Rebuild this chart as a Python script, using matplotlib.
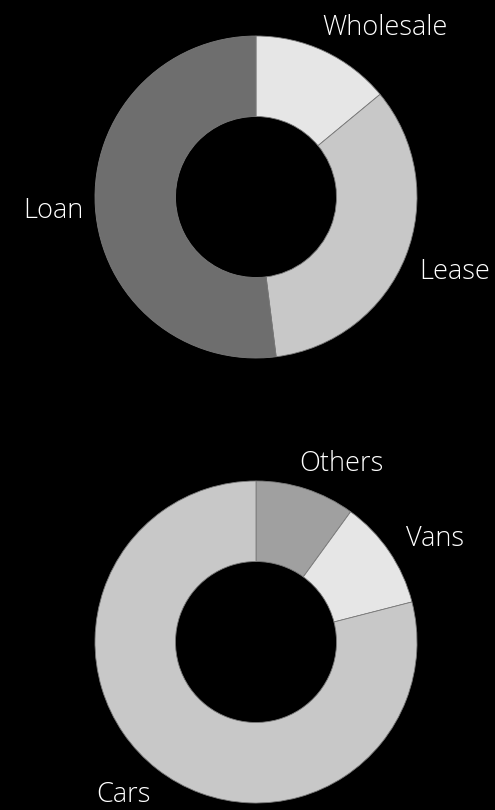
import matplotlib.pyplot as plt

# financing split
finance_labels = ['Wholesale', 'Lease', 'Loan']
finance_values = [14, 34, 52]
finance_colors = ['#e6e6e6', '#c8c8c8', '#6e6e6e']

# vehicle split
vehicle_labels = ['Others', 'Vans', 'Cars']
vehicle_values = [10, 11, 79]
vehicle_colors = ['#a0a0a0', '#e6e6e6', '#c8c8c8']

W, H = 495, 810
R = 161  # outer radius in pixels


def donut(fig, cx, cy, values, colors, labels, label_pos):
    ax = fig.add_axes([(cx - R) / W, (H - cy - R) / H, 2 * R / W, 2 * R / H])
    ax.pie(values, colors=colors, startangle=90, counterclock=False, radius=1,
           wedgeprops=dict(width=0.5, edgecolor='#7a7a7a', linewidth=0.6))
    ax.set_xlim(-1, 1)
    ax.set_ylim(-1, 1)
    ax.set_aspect('equal')
    ax.axis('off')
    for lab, (px, py) in zip(labels, label_pos):
        ax.text((px - cx) / R, (cy - py) / R, lab, ha='center', va='baseline',
                color='white', fontsize=19.5, family=['Open Sans', 'DejaVu Sans'],
                fontweight='light', clip_on=False)


fig = plt.figure(figsize=(W / 100, H / 100), dpi=100)
fig.patch.set_facecolor('black')

donut(fig, 256, 197, finance_values, finance_colors, finance_labels,
      [(385, 35), (455, 279), (53, 218)])
donut(fig, 256, 642, vehicle_values, vehicle_colors, vehicle_labels,
      [(341, 471), (435, 546), (123, 802)])

fig.savefig('out.png', dpi=100, facecolor='black')
